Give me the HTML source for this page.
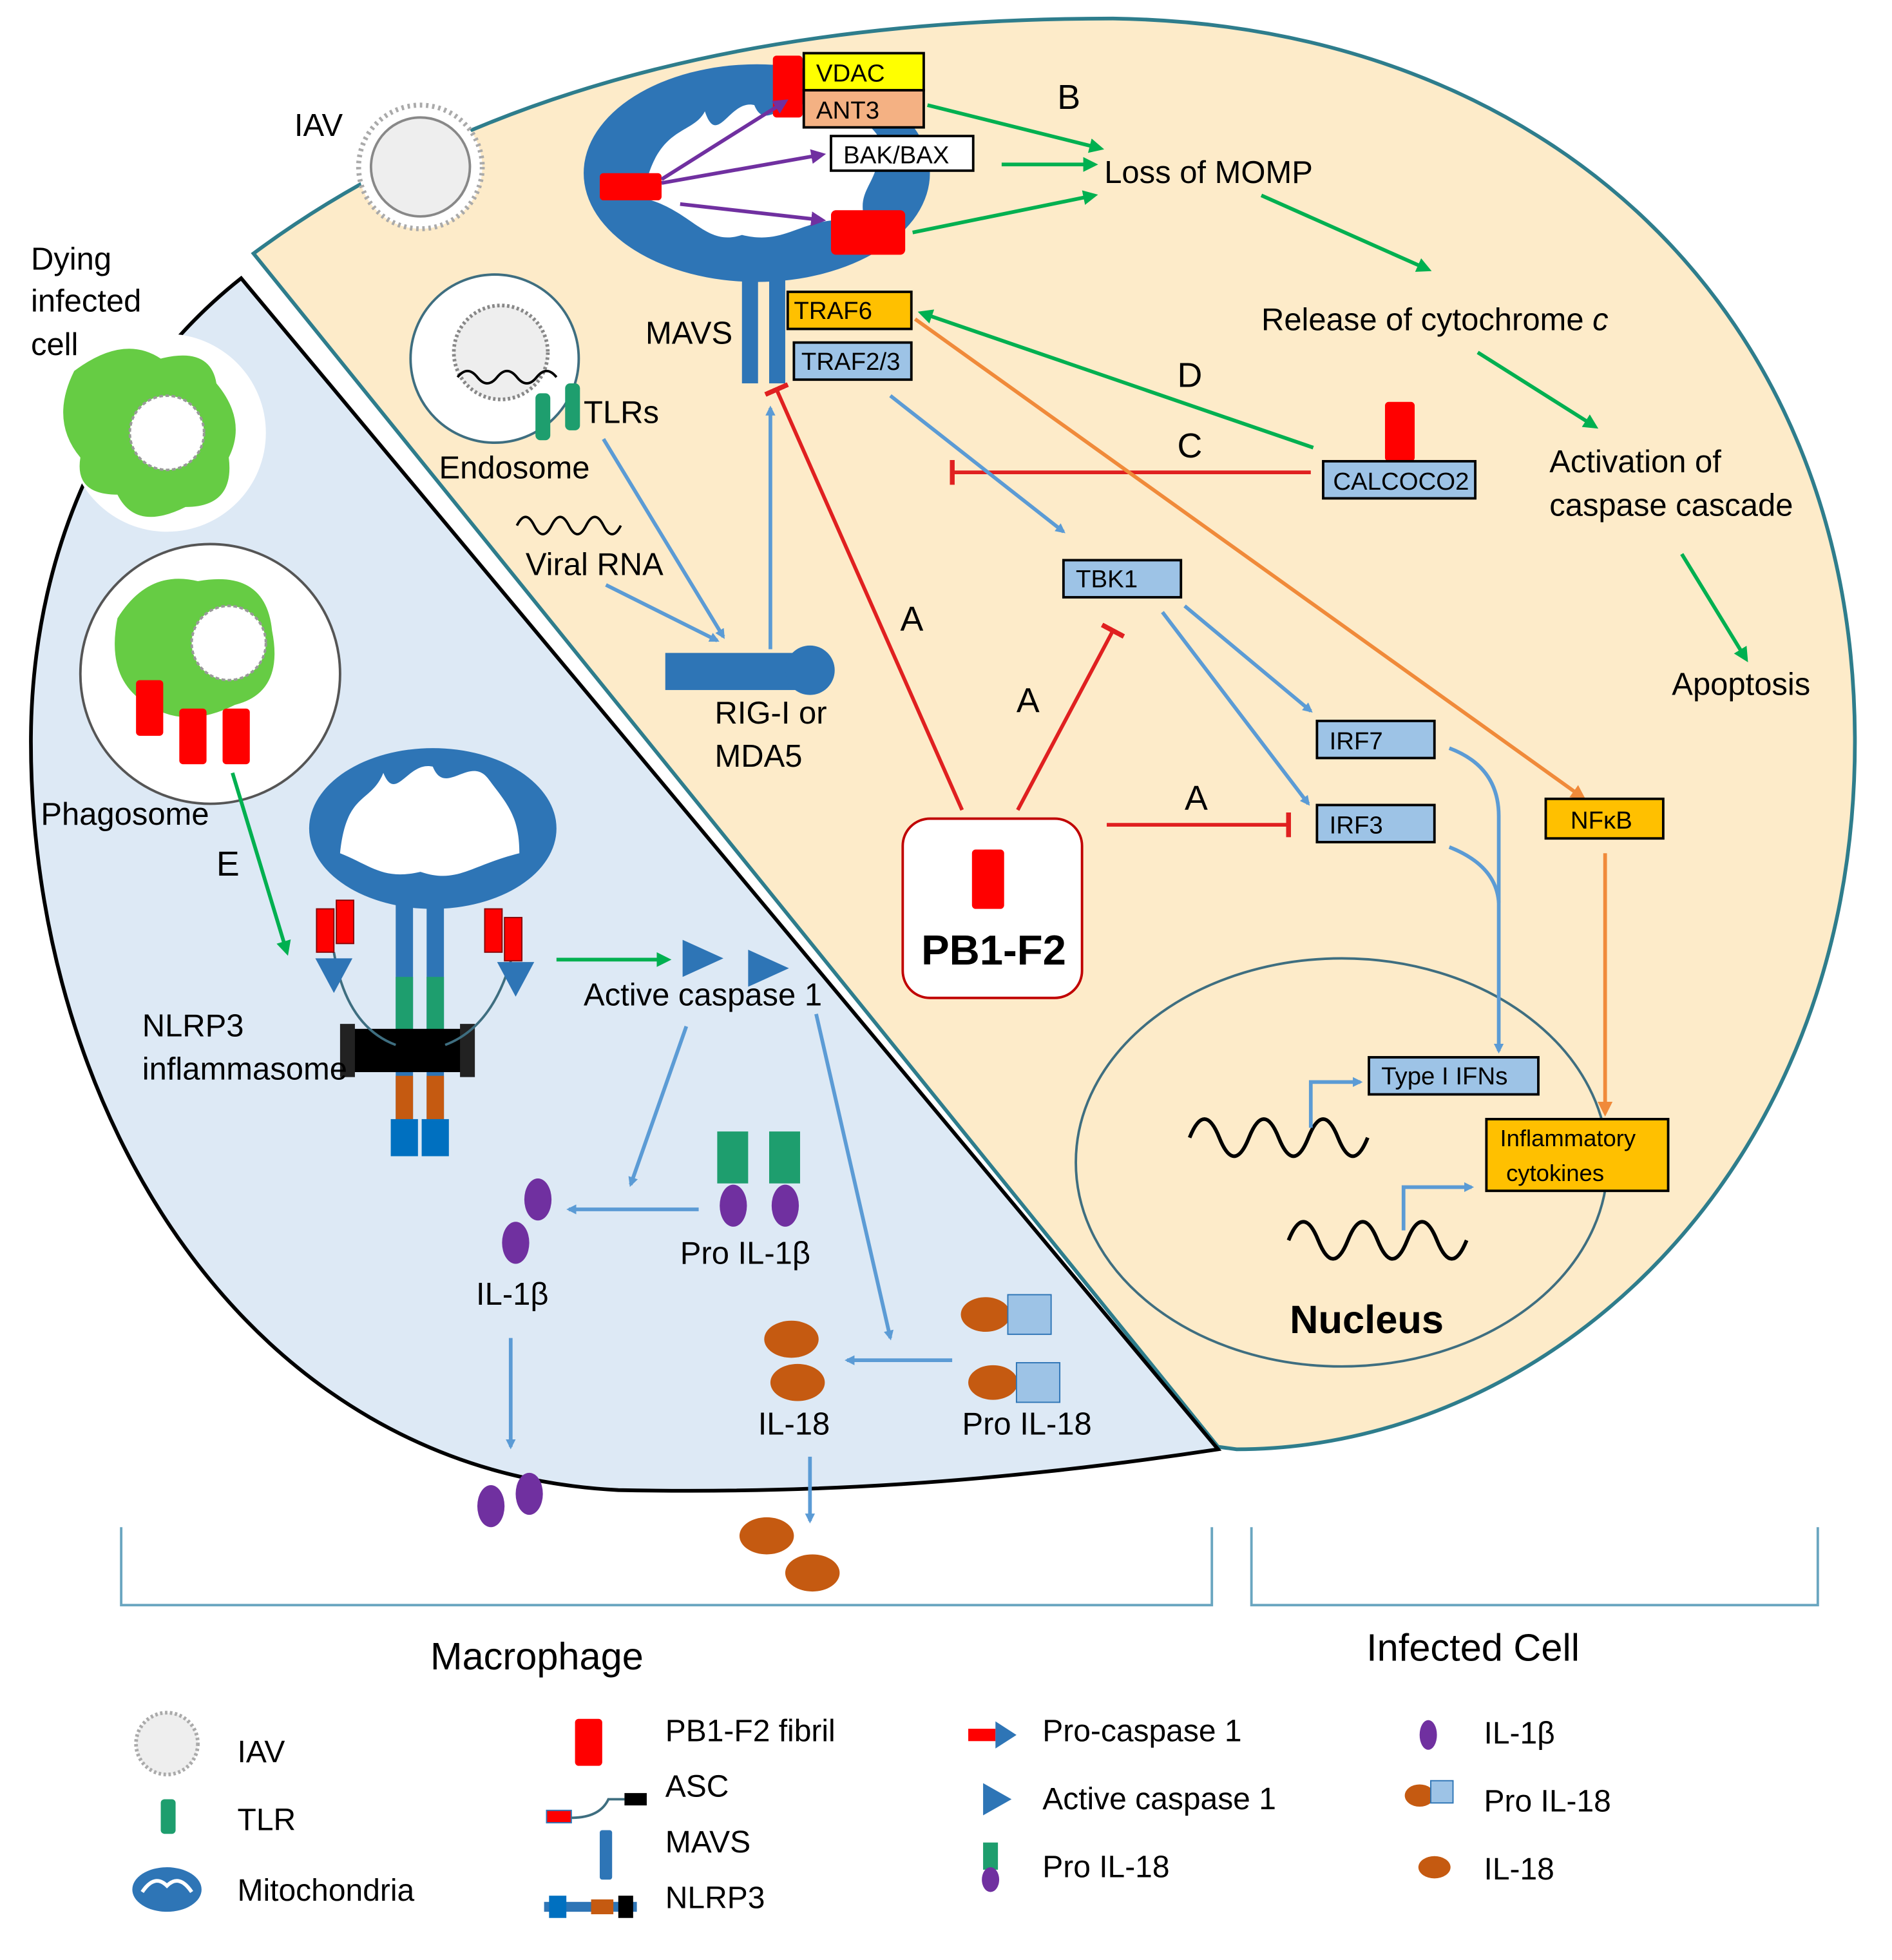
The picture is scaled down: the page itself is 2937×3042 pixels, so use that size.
<!DOCTYPE html>
<html><head><meta charset="utf-8"><style>html,body{margin:0;padding:0;background:#fff}svg{display:block}text{font-family:"Liberation Sans",sans-serif}</style></head><body>
<svg width="2937" height="3042" viewBox="0 0 1530 1585" preserveAspectRatio="none" xmlns="http://www.w3.org/2000/svg">
<defs>
<marker id="ab" markerWidth="8" markerHeight="8" refX="6" refY="4" orient="auto" markerUnits="userSpaceOnUse"><path d="M0,0 L8,4 L0,8 z" fill="#5b9bd5"/></marker>
<marker id="ag" markerWidth="12" markerHeight="12" refX="9" refY="6" orient="auto" markerUnits="userSpaceOnUse"><path d="M0,0 L12,6 L0,12 z" fill="#00b050"/></marker>
<marker id="ao" markerWidth="12" markerHeight="12" refX="9" refY="6" orient="auto" markerUnits="userSpaceOnUse"><path d="M0,0 L12,6 L0,12 z" fill="#f08a3a"/></marker>
<marker id="ap" markerWidth="12" markerHeight="12" refX="9" refY="6" orient="auto" markerUnits="userSpaceOnUse"><path d="M0,0 L12,6 L0,12 z" fill="#7030a0"/></marker>
<marker id="tr" markerWidth="4" markerHeight="20" refX="2" refY="10" orient="auto" markerUnits="userSpaceOnUse"><rect x="0" y="0" width="4" height="20" fill="#e02020"/></marker>
</defs>
<g font-size="25.5">
<path d="M205,205 C400,60 650,15 900,15 C1250,20 1500,250 1500,600 C1500,950 1250,1172 1000,1172 L985,1170 Z" fill="#fdebc9" stroke="#2e7d8c" stroke-width="3"/>
<path d="M195,225 L985,1172 C800,1200 650,1208 500,1205 C200,1190 25,900 25,600 C25,430 100,300 195,225 Z" fill="#dde9f5" stroke="#000" stroke-width="3"/>
<ellipse cx="1085" cy="940" rx="215" ry="165" fill="none" stroke="#3e6e80" stroke-width="2"/>
<circle cx="135" cy="350" r="80" fill="#fff"/>
<path d="M60,300 Q100,270 130,290 Q170,280 175,310 Q200,340 185,370 Q190,410 150,410 Q110,430 95,400 Q60,400 65,370 Q40,340 60,300Z" fill="#66cc44"/>
<circle cx="135" cy="350" r="30" fill="#fff" stroke="#999" stroke-width="2" stroke-dasharray="3 2"/>
<text x="25" y="218">Dying</text><text x="25" y="252">infected</text><text x="25" y="287">cell</text>
<circle cx="170" cy="545" r="105" fill="#fff" stroke="#555" stroke-width="2"/>
<path d="M95,500 Q120,460 160,470 Q215,460 220,510 Q230,560 190,570 Q150,590 120,570 Q85,550 95,500Z" fill="#66cc44"/>
<circle cx="185" cy="520" r="30" fill="#fff" stroke="#999" stroke-width="2" stroke-dasharray="3 2"/>
<rect x="110" y="550" width="22" height="45" rx="3" fill="#ff0000"/><rect x="145" y="573" width="22" height="45" rx="3" fill="#ff0000"/><rect x="180" y="573" width="22" height="45" rx="3" fill="#ff0000"/>
<text x="33" y="667">Phagosome</text>
<line x1="188" y1="625" x2="232" y2="770" stroke="#00b050" stroke-width="3" marker-end="url(#ag)"/>
<text x="175" y="708" font-size="28">E</text>
<circle cx="340" cy="135" r="50" fill="#fff" stroke="#aaa" stroke-width="4" stroke-dasharray="2 3"/>
<circle cx="340" cy="135" r="40" fill="#eee" stroke="#888" stroke-width="2"/>
<text x="238" y="110">IAV</text>
<circle cx="400" cy="290" r="68" fill="#fff" stroke="#3e6e80" stroke-width="2"/>
<circle cx="405" cy="285" r="38" fill="#eee" stroke="#888" stroke-width="3" stroke-dasharray="2 2"/>
<path d="M370,305 q8,-10 16,0 t16,0 t16,0 t16,0 t16,0" fill="none" stroke="#000" stroke-width="2"/>
<rect x="433" y="318" width="12" height="38" rx="4" fill="#1e9e6e"/><rect x="457" y="310" width="12" height="38" rx="4" fill="#1e9e6e"/>
<text x="472" y="342">TLRs</text>
<text x="355" y="387">Endosome</text>
<path d="M418,425 q7,-14 14,0 t14,0 t14,0 t14,0 t14,0 t14,0" fill="none" stroke="#000" stroke-width="2"/>
<text x="425" y="465">Viral RNA</text>
<line x1="488" y1="355" x2="585" y2="515" stroke="#5b9bd5" stroke-width="3" marker-end="url(#ab)"/>
<line x1="490" y1="473" x2="580" y2="518" stroke="#5b9bd5" stroke-width="3" marker-end="url(#ab)"/>
<rect x="538" y="528" width="110" height="30" fill="#2e75b6"/><circle cx="655" cy="542" r="20" fill="#2e75b6"/>
<text x="578" y="585">RIG-I or</text><text x="578" y="620">MDA5</text>
<line x1="623" y1="525" x2="623" y2="330" stroke="#5b9bd5" stroke-width="3" marker-end="url(#ab)"/>
<ellipse cx="612" cy="140" rx="140" ry="88" fill="#2e75b6"/>
<path d="M520,160 C530,100 560,110 570,90 C580,120 590,80 610,85 C620,110 640,70 660,90 C670,120 690,80 710,110 C715,150 690,150 700,180 C650,170 640,200 600,190 C570,200 560,170 520,160Z" fill="#fff"/>
<rect x="600" y="225" width="13" height="85" fill="#2e75b6"/><rect x="622" y="225" width="13" height="85" fill="#2e75b6"/>
<text x="522" y="278">MAVS</text>
<rect x="625" y="45" width="24" height="50" rx="3" fill="#ff0000"/>
<rect x="485" y="140" width="50" height="22" rx="3" fill="#ff0000"/>
<rect x="672" y="170" width="60" height="36" rx="4" fill="#ff0000"/>
<rect x="650" y="43" width="97" height="30" fill="#ffff00" stroke="#000" stroke-width="2"/><text x="660" y="66" font-size="20">VDAC</text>
<rect x="650" y="73" width="97" height="30" fill="#f4b183" stroke="#000" stroke-width="2"/><text x="660" y="96" font-size="20">ANT3</text>
<rect x="672" y="110" width="115" height="28" fill="#fff" stroke="#000" stroke-width="2"/><text x="682" y="132" font-size="20">BAK/BAX</text>
<line x1="535" y1="145" x2="635" y2="82" stroke="#7030a0" stroke-width="3" marker-end="url(#ap)"/>
<line x1="535" y1="148" x2="665" y2="125" stroke="#7030a0" stroke-width="3" marker-end="url(#ap)"/>
<line x1="550" y1="165" x2="665" y2="178" stroke="#7030a0" stroke-width="3" marker-end="url(#ap)"/>
<rect x="637" y="236" width="100" height="30" fill="#ffc000" stroke="#000" stroke-width="2"/><text x="642" y="258" font-size="20">TRAF6</text>
<rect x="642" y="277" width="95" height="30" fill="#9dc3e6" stroke="#000" stroke-width="2"/><text x="648" y="299" font-size="20">TRAF2/3</text>
<text x="855" y="88" font-size="28">B</text>
<line x1="750" y1="85" x2="890" y2="120" stroke="#00b050" stroke-width="3" marker-end="url(#ag)"/>
<line x1="810" y1="133" x2="885" y2="133" stroke="#00b050" stroke-width="3" marker-end="url(#ag)"/>
<line x1="738" y1="188" x2="885" y2="158" stroke="#00b050" stroke-width="3" marker-end="url(#ag)"/>
<text x="893" y="148">Loss of MOMP</text>
<line x1="1020" y1="158" x2="1155" y2="218" stroke="#00b050" stroke-width="3" marker-end="url(#ag)"/>
<text x="1020" y="267">Release of cytochrome <tspan font-style="italic">c</tspan></text>
<line x1="1195" y1="285" x2="1290" y2="345" stroke="#00b050" stroke-width="3" marker-end="url(#ag)"/>
<text x="1253" y="382">Activation of</text><text x="1253" y="417">caspase cascade</text>
<line x1="1360" y1="448" x2="1412" y2="533" stroke="#00b050" stroke-width="3" marker-end="url(#ag)"/>
<text x="1352" y="562">Apoptosis</text>
<rect x="1120" y="325" width="24" height="48" rx="3" fill="#ff0000"/>
<rect x="1070" y="373" width="123" height="30" fill="#9dc3e6" stroke="#000" stroke-width="2"/><text x="1078" y="396" font-size="20">CALCOCO2</text>
<line x1="1062" y1="362" x2="745" y2="253" stroke="#00b050" stroke-width="3" marker-end="url(#ag)"/>
<text x="952" y="313" font-size="28">D</text>
<line x1="1060" y1="382" x2="770" y2="382" stroke="#e02020" stroke-width="3" marker-end="url(#tr)"/>
<text x="952" y="370" font-size="28">C</text>
<line x1="740" y1="258" x2="1280" y2="645" stroke="#f08a3a" stroke-width="3" marker-end="url(#ao)"/>
<line x1="720" y1="320" x2="860" y2="430" stroke="#5b9bd5" stroke-width="3" marker-end="url(#ab)"/>
<rect x="860" y="453" width="95" height="30" fill="#9dc3e6" stroke="#000" stroke-width="2"/><text x="870" y="475" font-size="20">TBK1</text>
<line x1="958" y1="490" x2="1060" y2="575" stroke="#5b9bd5" stroke-width="3" marker-end="url(#ab)"/>
<line x1="940" y1="495" x2="1058" y2="650" stroke="#5b9bd5" stroke-width="3" marker-end="url(#ab)"/>
<rect x="1065" y="583" width="95" height="30" fill="#9dc3e6" stroke="#000" stroke-width="2"/><text x="1075" y="606" font-size="20">IRF7</text>
<rect x="1065" y="651" width="95" height="30" fill="#9dc3e6" stroke="#000" stroke-width="2"/><text x="1075" y="674" font-size="20">IRF3</text>
<path d="M1172,605 Q1212,620 1212,660 L1212,850" fill="none" stroke="#5b9bd5" stroke-width="3" marker-end="url(#ab)"/>
<path d="M1172,685 Q1210,700 1212,730" fill="none" stroke="#5b9bd5" stroke-width="3"/>
<rect x="1250" y="646" width="95" height="32" fill="#ffc000" stroke="#000" stroke-width="2"/><text x="1270" y="670" font-size="20">NFκB</text>
<line x1="1298" y1="690" x2="1298" y2="900" stroke="#f08a3a" stroke-width="3" marker-end="url(#ao)"/>
<rect x="730" y="662" width="145" height="145" rx="22" fill="#fff" stroke="#c00000" stroke-width="2"/>
<rect x="786" y="687" width="26" height="48" rx="3" fill="#ff0000"/>
<text x="745" y="780" font-size="34" font-weight="bold">PB1-F2</text>
<line x1="778" y1="655" x2="628" y2="315" stroke="#e02020" stroke-width="3" marker-end="url(#tr)"/>
<text x="728" y="510" font-size="28">A</text>
<line x1="823" y1="655" x2="900" y2="510" stroke="#e02020" stroke-width="3" marker-end="url(#tr)"/>
<text x="822" y="576" font-size="28">A</text>
<line x1="895" y1="667" x2="1042" y2="667" stroke="#e02020" stroke-width="3" marker-end="url(#tr)"/>
<text x="958" y="655" font-size="28">A</text>
<rect x="1107" y="855" width="137" height="30" fill="#9dc3e6" stroke="#000" stroke-width="2"/><text x="1117" y="877" font-size="20">Type I IFNs</text>
<rect x="1202" y="905" width="147" height="58" fill="#ffc000" stroke="#000" stroke-width="2"/><text x="1213" y="927" font-size="19">Inflammatory</text><text x="1218" y="955" font-size="19">cytokines</text>
<path d="M962,920 q12,-30 24,0 t24,0 t24,0 t24,0 t24,0 t24,0" fill="none" stroke="#000" stroke-width="3"/>
<path d="M1042,1003 q12,-30 24,0 t24,0 t24,0 t24,0 t24,0 t24,0" fill="none" stroke="#000" stroke-width="3"/>
<path d="M1060,912 L1060,875 L1100,875" fill="none" stroke="#5b9bd5" stroke-width="3" marker-end="url(#ab)"/>
<path d="M1135,995 L1135,960 L1190,960" fill="none" stroke="#5b9bd5" stroke-width="3" marker-end="url(#ab)"/>
<text x="1043" y="1078" font-size="32" font-weight="bold">Nucleus</text>
<ellipse cx="350" cy="670" rx="100" ry="65" fill="#2e75b6"/>
<path d="M275,690 C280,640 300,650 310,625 C320,650 330,615 350,620 C360,645 380,610 395,630 C410,650 420,660 420,690 C380,700 370,715 340,705 C310,712 300,700 275,690Z" fill="#fff"/>
<rect x="320" y="730" width="14" height="200" fill="#2e75b6"/><rect x="345" y="730" width="14" height="200" fill="#2e75b6"/>
<rect x="320" y="790" width="14" height="50" fill="#1e9e6e"/><rect x="345" y="790" width="14" height="50" fill="#1e9e6e"/>
<rect x="320" y="870" width="14" height="40" fill="#c55a11"/><rect x="345" y="870" width="14" height="40" fill="#c55a11"/>
<rect x="316" y="905" width="22" height="30" fill="#0070c0"/><rect x="341" y="905" width="22" height="30" fill="#0070c0"/>
<rect x="283" y="832" width="100" height="35" fill="#000"/>
<rect x="275" y="828" width="12" height="43" fill="#222"/><rect x="372" y="828" width="12" height="43" fill="#222"/>
<path d="M270,770 Q280,830 320,845" fill="none" stroke="#3e6e80" stroke-width="2"/>
<path d="M415,770 Q400,830 360,845" fill="none" stroke="#3e6e80" stroke-width="2"/>
<rect x="256" y="735" width="14" height="35" fill="#ff0000" stroke="#800"/><rect x="272" y="728" width="14" height="35" fill="#ff0000" stroke="#800"/>
<rect x="392" y="735" width="14" height="35" fill="#ff0000" stroke="#800"/><rect x="408" y="742" width="14" height="35" fill="#ff0000" stroke="#800"/>
<path d="M255,775 L285,775 L270,803Z" fill="#2e75b6"/><path d="M402,778 L432,778 L417,806Z" fill="#2e75b6"/>
<text x="115" y="838">NLRP3</text><text x="115" y="873">inflammasome</text>
<line x1="450" y1="776" x2="540" y2="776" stroke="#00b050" stroke-width="3" marker-end="url(#ag)"/>
<path d="M552,760 L585,775 L552,790Z" fill="#2e75b6"/><path d="M605,768 L638,783 L605,798Z" fill="#2e75b6"/>
<text x="472" y="813">Active caspase 1</text>
<line x1="555" y1="830" x2="510" y2="958" stroke="#5b9bd5" stroke-width="3" marker-end="url(#ab)"/>
<line x1="660" y1="820" x2="720" y2="1082" stroke="#5b9bd5" stroke-width="3" marker-end="url(#ab)"/>
<rect x="580" y="915" width="25" height="42" fill="#1e9e6e"/><rect x="622" y="915" width="25" height="42" fill="#1e9e6e"/>
<ellipse cx="593" cy="975" rx="11" ry="17" fill="#7030a0"/><ellipse cx="635" cy="975" rx="11" ry="17" fill="#7030a0"/>
<line x1="565" y1="978" x2="460" y2="978" stroke="#5b9bd5" stroke-width="3" marker-end="url(#ab)"/>
<text x="550" y="1022">Pro IL-1β</text>
<ellipse cx="435" cy="970" rx="11" ry="17" fill="#7030a0"/><ellipse cx="417" cy="1005" rx="11" ry="17" fill="#7030a0"/>
<text x="385" y="1055">IL-1β</text>
<line x1="413" y1="1082" x2="413" y2="1170" stroke="#5b9bd5" stroke-width="3" marker-end="url(#ab)"/>
<ellipse cx="397" cy="1218" rx="11" ry="17" fill="#7030a0"/><ellipse cx="428" cy="1208" rx="11" ry="17" fill="#7030a0"/>
<ellipse cx="797" cy="1063" rx="20" ry="14" fill="#c55a11"/><rect x="815" y="1047" width="35" height="32" fill="#9dc3e6" stroke="#2e75b6"/>
<ellipse cx="803" cy="1118" rx="20" ry="14" fill="#c55a11"/><rect x="822" y="1102" width="35" height="32" fill="#9dc3e6" stroke="#2e75b6"/>
<line x1="770" y1="1100" x2="685" y2="1100" stroke="#5b9bd5" stroke-width="3" marker-end="url(#ab)"/>
<text x="778" y="1160">Pro IL-18</text>
<ellipse cx="640" cy="1083" rx="22" ry="15" fill="#c55a11"/><ellipse cx="645" cy="1118" rx="22" ry="15" fill="#c55a11"/>
<text x="613" y="1160">IL-18</text>
<line x1="655" y1="1178" x2="655" y2="1230" stroke="#5b9bd5" stroke-width="3" marker-end="url(#ab)"/>
<ellipse cx="620" cy="1242" rx="22" ry="15" fill="#c55a11"/><ellipse cx="657" cy="1272" rx="22" ry="15" fill="#c55a11"/>
<path d="M98,1235 L98,1298 L980,1298 L980,1235" fill="none" stroke="#6aa6c0" stroke-width="2"/>
<path d="M1012,1235 L1012,1298 L1470,1298 L1470,1235" fill="none" stroke="#6aa6c0" stroke-width="2"/>
<text x="348" y="1350" font-size="31">Macrophage</text>
<text x="1105" y="1343" font-size="31">Infected Cell</text>
<g font-size="25">
<circle cx="135" cy="1410" r="25" fill="#eee" stroke="#aaa" stroke-width="3" stroke-dasharray="2 2"/>
<text x="192" y="1425">IAV</text>
<rect x="130" y="1455" width="12" height="28" rx="3" fill="#1e9e6e"/><text x="192" y="1480">TLR</text>
<ellipse cx="135" cy="1528" rx="28" ry="18" fill="#2e75b6"/><path d="M115,1530 q10,-15 20,-5 q10,-10 20,5" fill="none" stroke="#fff" stroke-width="3"/>
<text x="192" y="1537">Mitochondria</text>
<rect x="465" y="1390" width="22" height="38" rx="3" fill="#ff0000"/><text x="538" y="1408">PB1-F2 fibril</text>
<rect x="442" y="1464" width="20" height="10" fill="#ff0000" stroke="#2e75b6"/><path d="M462,1470 Q485,1470 492,1455 L505,1455" fill="none" stroke="#3e6e80" stroke-width="2"/><rect x="505" y="1450" width="18" height="10" fill="#000"/>
<text x="538" y="1453">ASC</text>
<rect x="485" y="1480" width="10" height="40" rx="2" fill="#2e75b6"/><text x="538" y="1498">MAVS</text>
<rect x="440" y="1538" width="75" height="8" fill="#2e75b6"/><rect x="444" y="1533" width="14" height="18" fill="#0070c0"/><rect x="478" y="1536" width="18" height="12" fill="#c55a11"/><rect x="500" y="1533" width="12" height="18" fill="#000"/>
<text x="538" y="1543">NLRP3</text>
<rect x="783" y="1398" width="22" height="10" fill="#ff0000"/><path d="M805,1392 L822,1403 L805,1414Z" fill="#2e75b6"/><text x="843" y="1408">Pro-caspase 1</text>
<path d="M795,1442 L818,1455 L795,1468Z" fill="#2e75b6"/><text x="843" y="1463">Active caspase 1</text>
<rect x="795" y="1490" width="12" height="22" fill="#1e9e6e"/><ellipse cx="801" cy="1520" rx="7" ry="10" fill="#7030a0"/><text x="843" y="1518">Pro IL-18</text>
<ellipse cx="1155" cy="1403" rx="7" ry="12" fill="#7030a0"/><text x="1200" y="1410">IL-1β</text>
<ellipse cx="1148" cy="1452" rx="12" ry="9" fill="#c55a11"/><rect x="1157" y="1440" width="18" height="18" fill="#9dc3e6" stroke="#2e75b6"/><text x="1200" y="1465">Pro IL-18</text>
<ellipse cx="1160" cy="1510" rx="13" ry="9" fill="#c55a11"/><text x="1200" y="1520">IL-18</text>
</g>
</g>
</svg>
</body></html>
